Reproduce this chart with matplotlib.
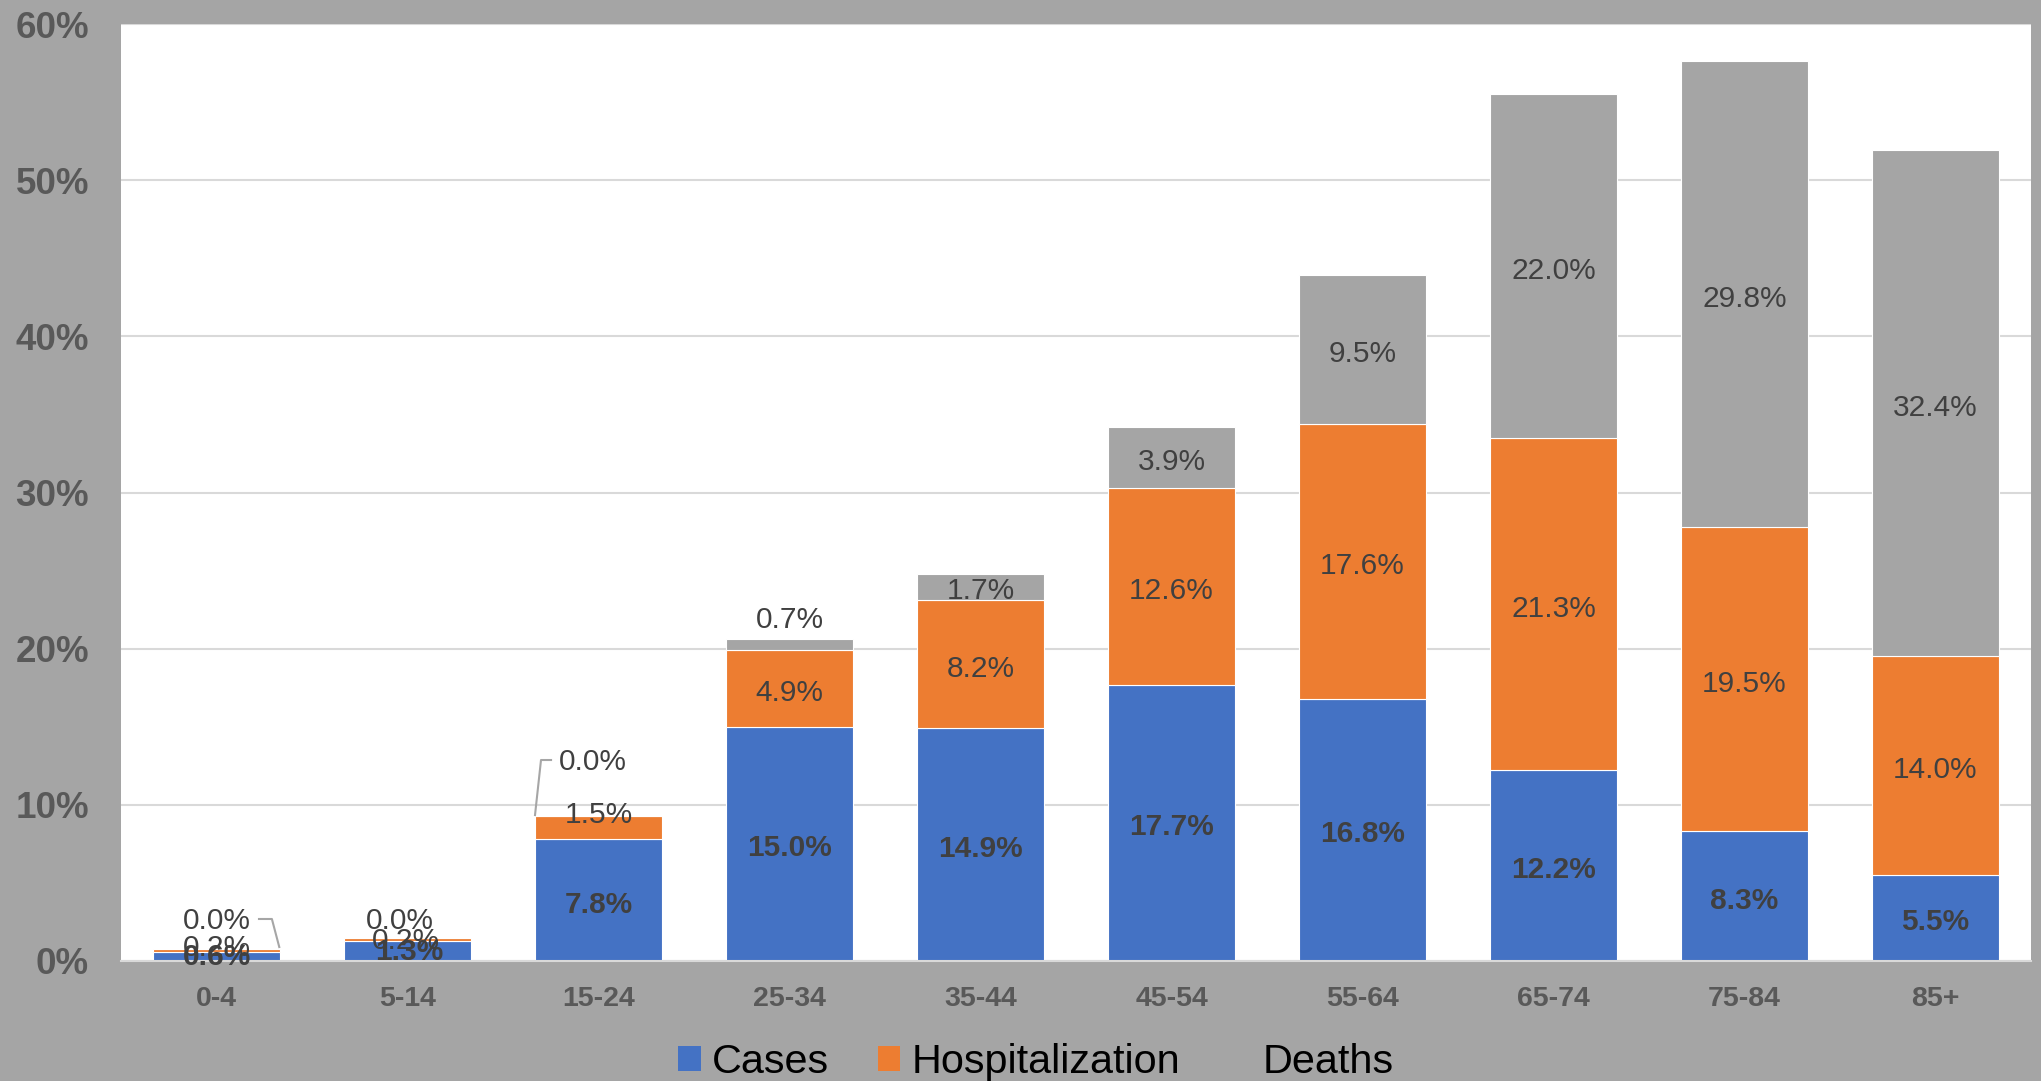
import matplotlib
matplotlib.use("Agg")
import matplotlib.pyplot as plt
from matplotlib.patches import Patch
import numpy as np

plt.rcParams['font.family'] = ['Liberation Sans', 'DejaVu Sans']

# ---- data ----
categories = ["0-4", "5-14", "15-24", "25-34", "35-44", "45-54", "55-64", "65-74", "75-84", "85+"]
cases = [0.6, 1.3, 7.8, 15.0, 14.9, 17.7, 16.8, 12.2, 8.3, 5.5]
hospitalization = [0.2, 0.2, 1.5, 4.9, 8.2, 12.6, 17.6, 21.3, 19.5, 14.0]
deaths = [0.0, 0.0, 0.0, 0.7, 1.7, 3.9, 9.5, 22.0, 29.8, 32.4]
series_names = ["Cases", "Hospitalization", "Deaths"]
yticks = [0, 10, 20, 30, 40, 50, 60]

# ---- style ----
BG = '#A5A5A5'
colors = ['#4472C4', '#ED7D31', '#A5A5A5']
W, H = 2041, 1081
fig = plt.figure(figsize=(W / 100, H / 100), dpi=100, facecolor=BG)
ax = fig.add_axes([121 / W, 1 - 961 / H, (2031 - 121) / W, (961 - 24) / H])
ax.set_facecolor('white')

x = np.arange(len(categories))
series = [cases, hospitalization, deaths]
bottom = np.zeros(len(categories))
bottoms = []
for vals, col in zip(series, colors):
    bottoms.append(bottom.copy())
    ax.bar(x, vals, width=0.665, bottom=bottom, color=col, edgecolor='white',
           linewidth=0.8, zorder=3)
    bottom = bottom + np.array(vals)

ax.set_xlim(-0.5, len(categories) - 0.5)
ax.set_ylim(0, 60)
ax.set_yticks(yticks)
ax.set_yticklabels([f"{v}%" for v in yticks])
ax.set_xticks(x)
ax.set_xticklabels(categories)
ax.tick_params(axis='y', length=0, pad=23, labelsize=26.5, labelcolor='#595959')
ax.tick_params(axis='x', length=0, pad=18, labelsize=20.5, labelcolor='#595959')
for lab in ax.get_yticklabels() + ax.get_xticklabels():
    lab.set_fontweight('bold')
for s in ['top', 'right', 'left']:
    ax.spines[s].set_visible(False)
ax.spines['bottom'].set_color('#D9D9D9')
ax.spines['bottom'].set_linewidth(1.5)
ax.spines['bottom'].set_zorder(4)
ax.yaxis.grid(True, color='#D9D9D9', linewidth=1.5, zorder=0)
ax.set_axisbelow(True)

# ---- data labels ----
# label position overrides: (category index, series index) -> (dx, y)
overrides = {
    (0, 2): (0.0, 2.56), (1, 2): (-0.04, 2.56), (2, 2): (-0.03, 12.74),
    (3, 2): (0.0, 21.83), (2, 1): (0.0, 9.35),
    (0, 1): (0.0, 0.83), (0, 0): (0.0, 0.28),
    (1, 1): (-0.01, 1.28), (1, 0): (0.01, 0.58),
}
for si, vals in enumerate(series):
    for i, v in enumerate(vals):
        if (i, si) in overrides:
            dx, y = overrides[(i, si)]
            off = 0
        else:
            dx, y = 0.0, bottoms[si][i] + v / 2
            off = -3.2
        ax.annotate(f"{v:.1f}%", (i + dx, y), xytext=(0, off), textcoords='offset points',
                    ha='center', va='center', fontsize=21.5, color='#404040',
                    fontweight='bold' if si == 0 else 'normal', zorder=6)

# leader lines
leaders = [
    [(0.217, 2.69), (0.29, 2.69), (0.33, 0.83)],
    [(1.757, 12.87), (1.699, 12.87), (1.667, 9.28)],
]
for pts in leaders:
    xs, ys = zip(*pts)
    ax.plot(xs, ys, color='#A6A6A6', linewidth=1.5, zorder=5, solid_capstyle='butt')

# ---- legend ----
handles = [Patch(facecolor=c, edgecolor='none') for c in colors]
leg = fig.legend(handles, series_names, loc='center', bbox_to_anchor=(1036 / W, 1 - 1062 / H),
                 ncol=3, frameon=False, fontsize=29.8, handlelength=0.55, handleheight=0.55,
                 handletextpad=0.27, columnspacing=1.17, borderpad=0, borderaxespad=0)
for t in leg.get_texts():
    t.set_color('black')

fig.savefig('out.png', dpi=100, facecolor=BG)
